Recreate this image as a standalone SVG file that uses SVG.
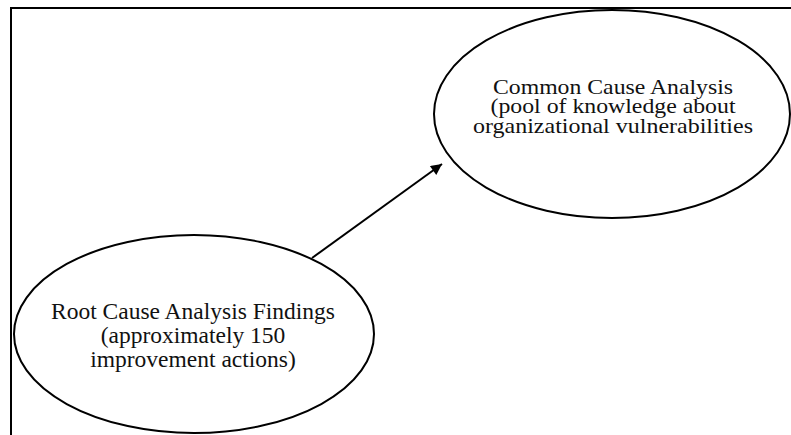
<svg xmlns="http://www.w3.org/2000/svg" width="791" height="435" viewBox="0 0 791 435">
<style>
.frame{fill:none;stroke:#000;stroke-width:2}
.node{fill:none;stroke:#000;stroke-width:2}
.lbl{font-family:"Liberation Serif","Times New Roman",serif;font-size:23.5px;fill:#111;text-anchor:middle}
.lbl.tight{font-size:22px}
.conn{fill:none;stroke:#000;stroke-width:2}
</style>
<defs>
<marker id="arr" viewBox="0 0 10 10" refX="10" refY="5" markerWidth="7" markerHeight="5.5" markerUnits="strokeWidth" orient="auto">
<path d="M0,0 L10,5 L0,10 z" fill="#000"/>
</marker>
</defs>
<rect width="791" height="435" fill="#fff"/>
<path class="frame" d="M11,436 L11,8 L792,8"/>
<g id="connectors">
<line class="conn" x1="312" y1="258" x2="442" y2="164" marker-end="url(#arr)"/>
</g>
<g id="common-cause">
<ellipse class="node" cx="612" cy="114" rx="178" ry="104"/>
<text class="lbl tight" x="613" y="94" textLength="240" lengthAdjust="spacingAndGlyphs">Common Cause Analysis</text>
<text class="lbl tight" x="613" y="113" textLength="245" lengthAdjust="spacingAndGlyphs">(pool of knowledge about</text>
<text class="lbl tight" x="613" y="133" textLength="280" lengthAdjust="spacingAndGlyphs">organizational vulnerabilities</text>
</g>
<g id="root-cause">
<ellipse class="node" cx="194" cy="334" rx="180" ry="99"/>
<text class="lbl" x="193" y="319">Root Cause Analysis Findings</text>
<text class="lbl" x="193" y="343">(approximately 150</text>
<text class="lbl" x="193" y="367">improvement actions)</text>
</g>
</svg>
